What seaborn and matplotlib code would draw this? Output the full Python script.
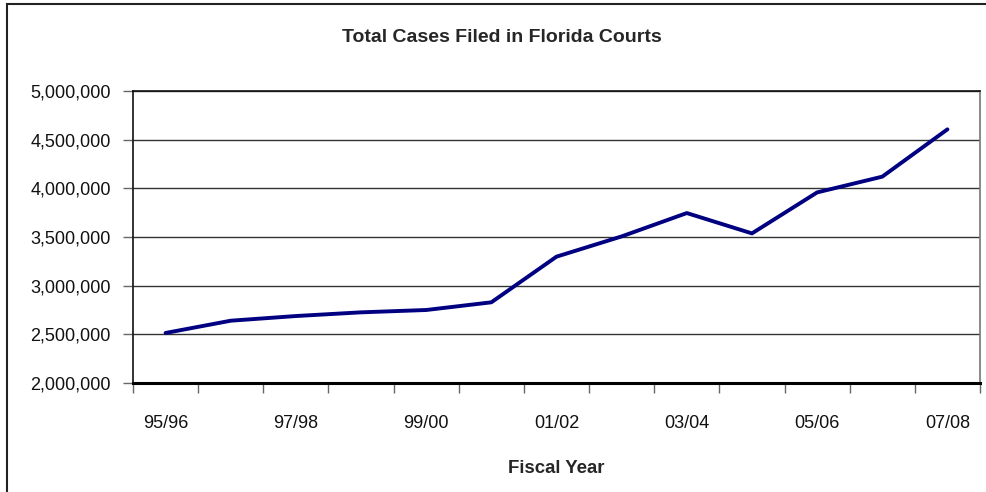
import numpy as np
import pandas as pd
import matplotlib.pyplot as plt
import matplotlib.ticker as mticker
from matplotlib.patches import Rectangle
import seaborn as sns

# data
fiscal_years = ["95/96", "96/97", "97/98", "98/99", "99/00", "00/01", "01/02",
                "02/03", "03/04", "04/05", "05/06", "06/07", "07/08"]
total_cases = [2514000, 2640000, 2688000, 2726000, 2750000, 2829000, 3298000,
               3506000, 3746000, 3537000, 3958000, 4120000, 4606000]
y_ticks = [2000000, 2500000, 3000000, 3500000, 4000000, 4500000, 5000000]

df = pd.DataFrame({"Fiscal Year": fiscal_years, "Cases": total_cases})
df["pos"] = np.arange(len(df))

sns.set_theme(style="white")
plt.rcParams['font.family'] = ['Liberation Sans', 'DejaVu Sans']

fig = plt.figure(figsize=(9.87, 4.92), dpi=100)
ax = fig.add_axes([133 / 987, 1 - 383 / 492, (980 - 133) / 987, (383 - 91) / 492])

# chart area frame (right and bottom edges fall outside the picture)
fig.patches.append(Rectangle((7 / 987, -0.05), 1.2, 1 - 3.5 / 492 + 0.05,
                             transform=fig.transFigure, fill=False,
                             edgecolor="#222222", linewidth=1.5))

sns.lineplot(data=df, x="pos", y="Cases", color="#000080", linewidth=2.8, ax=ax)

ax.set_xlim(-0.5, len(df) - 0.5)
ax.set_ylim(y_ticks[0], y_ticks[-1])
ax.set_yticks(y_ticks)
ax.yaxis.set_major_formatter(mticker.FuncFormatter(lambda v, p: f"{int(v):,}"))
ax.yaxis.grid(True, color="#333333", linewidth=1.0)
ax.set_axisbelow(True)

# category labels on every other year, tick marks between categories
ax.set_xticks(df["pos"][::2])
ax.set_xticklabels(df["Fiscal Year"][::2])
ax.set_xticks(np.arange(-0.5, len(df)), minor=True)
ax.tick_params(axis="x", which="both", bottom=True)
ax.tick_params(axis="y", which="both", left=True)
ax.tick_params(axis="x", which="major", length=0, pad=23, labelsize=13, colors="#111111")
ax.tick_params(axis="x", which="minor", length=7, width=1, color="#666666")
ax.tick_params(axis="y", which="major", length=7, width=1, color="#666666",
               labelsize=13, labelcolor="#111111", pad=9)

for side in ["left", "top"]:
    ax.spines[side].set_color("#111111")
    ax.spines[side].set_linewidth(1.2)
ax.spines["bottom"].set_color("#000000")
ax.spines["bottom"].set_linewidth(2.2)
ax.spines["right"].set_color("#777777")
ax.spines["right"].set_linewidth(1.2)

ax.set_xlabel("Fiscal Year", fontsize=13.4, fontweight="bold", labelpad=20)
ax.set_ylabel("")
fig.text(502 / 987, 1 - 38 / 492, "Total Cases Filed in Florida Courts",
         ha="center", va="center", fontsize=14, fontweight="bold")

fig.savefig("out.png", dpi=100)
